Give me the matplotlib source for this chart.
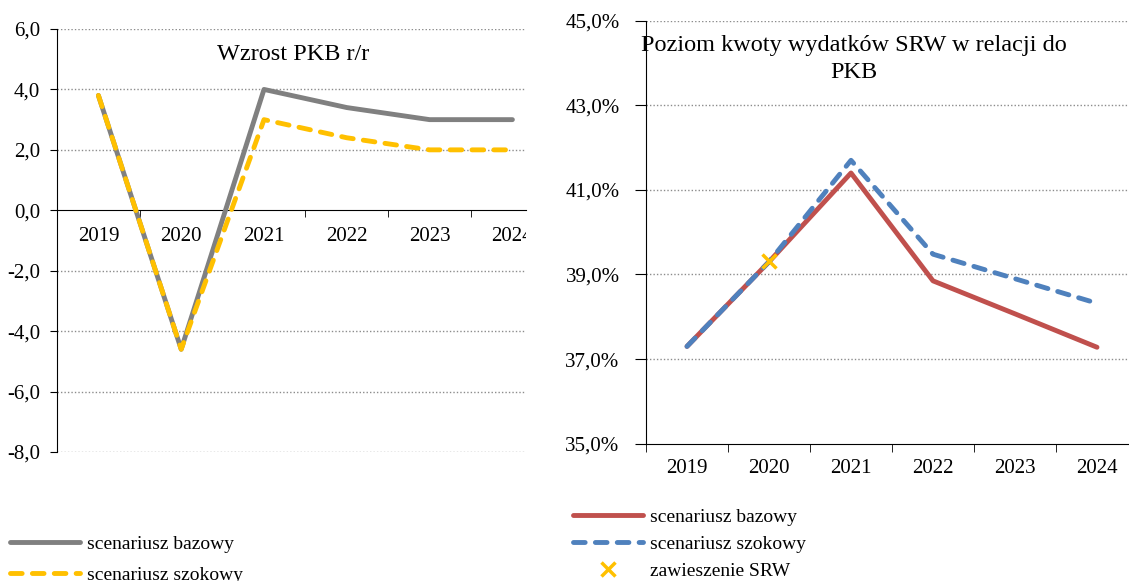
import numpy as np
import matplotlib.pyplot as plt
from matplotlib.ticker import FuncFormatter, FixedLocator

plt.rcParams['font.family'] = ['Liberation Serif', 'DejaVu Serif']

# dane
lata = ['2019', '2020', '2021', '2022', '2023', '2024']
pkb_bazowy = [3.8, -4.6, 4.0, 3.4, 3.0, 3.0]
pkb_szokowy = [3.8, -4.6, 3.0, 2.4, 2.0, 2.0]
srw_bazowy = [37.3, 39.3, 41.4, 38.85, 38.07, 37.28]
srw_szokowy = [37.3, 39.3, 41.7, 39.48, 38.9, 38.32]
zawieszenie_rok = 1
zawieszenie_srw = 39.32

W, H = 1129, 581
fig = plt.figure(figsize=(W / 100, H / 100), dpi=100)


def box(x0, x1, ytop, ybot):
    return [x0 / W, 1 - ybot / H, (x1 - x0) / W, (ybot - ytop) / H]


x = np.arange(len(lata))
grid_kw = dict(color='#8c8c8c', linestyle=(0, (1, 1.5)), linewidth=1.0)
kreski = (2.4, 2.1)
grubosc = 3.5

# ---- lewy wykres: Wzrost PKB r/r
ax1 = fig.add_axes(box(57, 526, 29, 452))
ax1.plot(x, pkb_bazowy, color='#808080', lw=grubosc, solid_capstyle='round',
         label='scenariusz bazowy', zorder=3)
ax1.plot(x, pkb_szokowy, color='#FFC000', lw=grubosc, dashes=kreski,
         dash_capstyle='round', label='scenariusz szokowy', zorder=4)
ax1.set_xlim(-0.5, -0.5 + (526 - 57) / 82.8)
ax1.set_ylim(-8, 6)
ax1.set_yticks(np.arange(-8, 7, 2))
for v in np.arange(-8, 7, 2):
    if v != 0:
        ax1.axhline(v, **grid_kw, zorder=1)
ax1.yaxis.set_major_formatter(FuncFormatter(lambda v, p: f'{v:.1f}'.replace('.', ',')))
ax1.spines['bottom'].set_position(('data', 0))
for s in ['top', 'right']:
    ax1.spines[s].set_visible(False)
ax1.set_xticks(x)
ax1.set_xticklabels(lata)
ax1.xaxis.set_minor_locator(FixedLocator(np.arange(-0.5, 6, 1)))
ax1.tick_params(axis='x', which='major', length=0, pad=12, labelsize=15)
ax1.tick_params(axis='x', which='minor', length=5, direction='out')
ax1.tick_params(axis='y', length=5, pad=7, labelsize=15)
for lab in ax1.get_xticklabels():
    lab.set_clip_box(ax1.bbox)
ax1.text(0.504, 0.94, 'Wzrost PKB r/r', transform=ax1.transAxes, ha='center',
         va='center', fontsize=17.5)
h1, l1 = ax1.get_legend_handles_labels()
fig.legend(h1, l1, loc='upper left', bbox_to_anchor=(10 / W, 1 - 535 / H),
           frameon=False, fontsize=14, handlelength=3.6, handletextpad=0.36,
           labelspacing=0.72, borderpad=0, borderaxespad=0)

# ---- prawy wykres: SRW / PKB
ax2 = fig.add_axes(box(646, 1129, 20.7, 443.7))
ax2.plot(x, srw_bazowy, color='#C0504D', lw=grubosc, solid_capstyle='round',
         label='scenariusz bazowy', zorder=3)
ax2.plot(x, srw_szokowy, color='#4F81BD', lw=grubosc, dashes=kreski,
         dash_capstyle='round', label='scenariusz szokowy', zorder=4)
ax2.plot([x[zawieszenie_rok]], [zawieszenie_srw], linestyle='none', marker='x',
         color='#FFC000', ms=10, mew=2.5, label='zawieszenie SRW', zorder=5)
ax2.set_xlim(-0.5, -0.5 + (1129 - 646) / 82.0)
ax2.set_ylim(35, 45)
ax2.set_yticks(np.arange(35, 46, 2))
for v in np.arange(37, 46, 2):
    ax2.axhline(v, **grid_kw, zorder=1)
ax2.yaxis.set_major_formatter(FuncFormatter(lambda v, p: f'{v:.1f}%'.replace('.', ',')))
for s in ['top', 'right']:
    ax2.spines[s].set_visible(False)
ax2.set_xticks(x)
ax2.set_xticklabels(lata)
ax2.xaxis.set_minor_locator(FixedLocator(np.arange(-0.5, 6, 1)))
ax2.tick_params(axis='x', which='major', length=0, pad=11, labelsize=15)
ax2.tick_params(axis='x', which='minor', length=6, direction='out')
ax2.tick_params(axis='y', length=8, pad=11, labelsize=15)
ax2.text(0.43, 0.91, 'Poziom kwoty wydatków SRW w relacji do\nPKB',
         transform=ax2.transAxes, ha='center', va='center', fontsize=17.5,
         linespacing=1.35)
h2, l2 = ax2.get_legend_handles_labels()
fig.legend(h2, l2, loc='upper left', bbox_to_anchor=(573 / W, 1 - 508 / H),
           frameon=False, fontsize=14, handlelength=3.6, handletextpad=0.36,
           labelspacing=0.5, borderpad=0, borderaxespad=0)

fig.savefig('out.png', dpi=100)
